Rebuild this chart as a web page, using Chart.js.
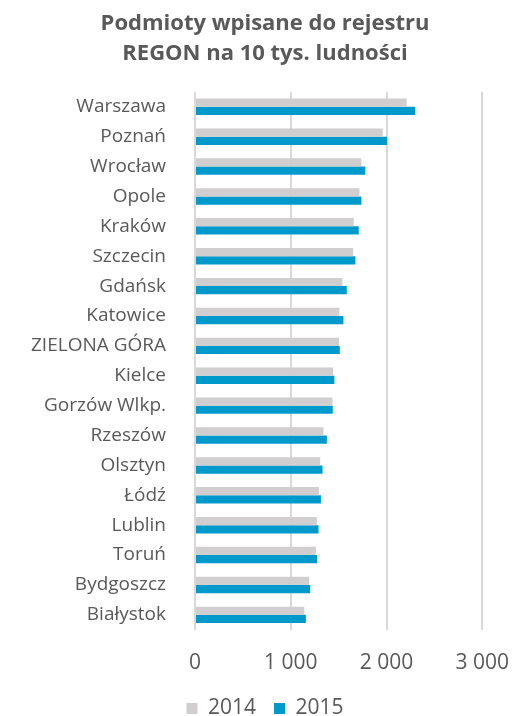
<!DOCTYPE html>
<html lang="pl">
<head>
    <meta charset="UTF-8">
    <title>Podmioty wpisane do rejestru REGON</title>
    <script src="https://cdn.jsdelivr.net/npm/chart.js"></script>
    <style>
        html, body { margin: 0; padding: 0; background: #ffffff; overflow: hidden; }
        #wrap { width: 530px; height: 716px; overflow: hidden; }
    </style>
</head>
<body>
    <div id="wrap"><canvas id="regonChart" width="530" height="729"></canvas></div>
    <script>
        const cities = ["Warszawa", "Poznań", "Wrocław", "Opole", "Kraków", "Szczecin", "Gdańsk", "Katowice",
            "ZIELONA GÓRA", "Kielce", "Gorzów Wlkp.", "Rzeszów", "Olsztyn", "Łódź", "Lublin", "Toruń",
            "Bydgoszcz", "Białystok"];
        const values2014 = [2210, 1960, 1738, 1717, 1658, 1651, 1540, 1508, 1505, 1443, 1436, 1342, 1307, 1294, 1273, 1262, 1193, 1141];
        const values2015 = [2300, 2005, 1779, 1738, 1710, 1675, 1585, 1550, 1512, 1456, 1439, 1377, 1332, 1315, 1290, 1276, 1203, 1158];
        const xTicks = [0, 1000, 2000, 3000];

        const textColor = "#595959";
        const fontFamily = "'Open Sans', 'Liberation Sans', sans-serif";

        new Chart(document.getElementById("regonChart"), {
            type: "bar",
            data: {
                labels: cities,
                datasets: [
                    { label: "2014", data: values2014, backgroundColor: "#d0cece" },
                    { label: "2015", data: values2015, backgroundColor: "#0099cc" }
                ]
            },
            options: {
                indexAxis: "y",
                responsive: false,
                animation: false,
                layout: { padding: 0 },
                datasets: { bar: { barPercentage: 1, categoryPercentage: 0.55 } },
                scales: {
                    x: {
                        min: 0,
                        max: 3000,
                        afterBuildTicks: axis => { axis.ticks = xTicks.map(v => ({ value: v })); },
                        afterFit: axis => { axis.height -= 17; },
                        grid: { color: "#d9d9d9", lineWidth: 2, drawTicks: false },
                        border: { display: false },
                        ticks: {
                            color: textColor,
                            padding: 21,
                            font: { family: fontFamily, size: 21 },
                            callback: v => String(v).replace(/\B(?=(\d{3})+(?!\d))/g, " ")
                        }
                    },
                    y: {
                        afterFit: axis => { axis.width = 195; },
                        grid: { display: false },
                        border: { display: false },
                        ticks: {
                            color: textColor,
                            padding: 21,
                            font: { family: fontFamily, size: 19 }
                        }
                    },
                    // empty right-hand axis, only keeps room on the right of the plot
                    spacer: {
                        type: "category",
                        position: "right",
                        afterFit: axis => { axis.width = 46; },
                        grid: { display: false },
                        border: { display: false },
                        ticks: { display: false }
                    }
                },
                plugins: {
                    title: {
                        display: true,
                        text: ["Podmioty wpisane do rejestru", "REGON na 10 tys. ludności"],
                        color: textColor,
                        font: { family: fontFamily, size: 22, weight: "bold", lineHeight: 1.36 },
                        padding: { top: 9, bottom: 23 }
                    },
                    legend: {
                        position: "bottom",
                        labels: {
                            color: textColor,
                            boxWidth: 11,
                            boxHeight: 11,
                            padding: 18,
                            font: { family: fontFamily, size: 21 }
                        }
                    },
                    tooltip: { enabled: false }
                }
            }
        });
    </script>
</body>
</html>
